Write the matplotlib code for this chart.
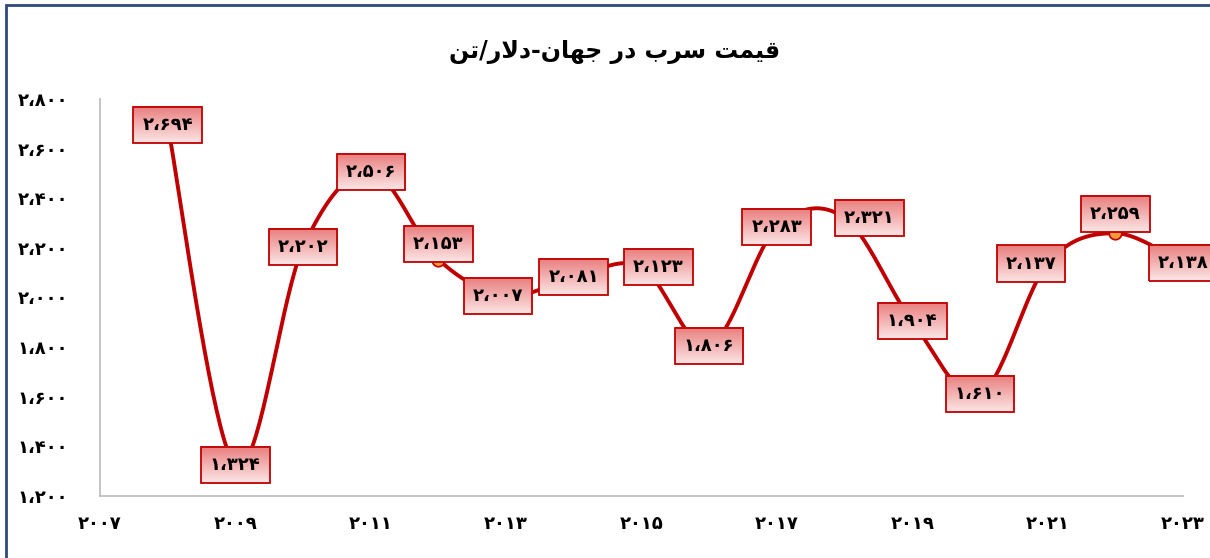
import numpy as np
import matplotlib.pyplot as plt
from matplotlib.patches import Rectangle


years = [2008, 2009, 2010, 2011, 2012, 2013, 2014, 2015,
         2016, 2017, 2018, 2019, 2020, 2021, 2022, 2023]
prices = [2694, 1324, 2202, 2506, 2153, 2007, 2081, 2123,
          1806, 2283, 2321, 1904, 1610, 2137, 2259, 2138]
xtick_years = [2007, 2009, 2011, 2013, 2015, 2017, 2019, 2021, 2023]
ytick_values = [1200, 1400, 1600, 1800, 2000, 2200, 2400, 2600, 2800]
title_text = "قیمت سرب در جهان-دلار/تن"

# label box nudges (points), where the boxes were moved off the point
label_offsets = {2012: (0, 11), 2013: (-6, 0), 2015: (12, 0),
                 2018: (18, 0), 2021: (-12, 0), 2022: (0, 14)}

FA_DIGITS = str.maketrans("0123456789,", "۰۱۲۳۴۵۶۷۸۹،")


def to_fa(n):
    return f"{n:,}".translate(FA_DIGITS)


# %% minimal arabic shaping (no reshaper available)
FORMS = {
    'ق': (0xFED5, 0xFED6, 0xFED7, 0xFED8),
    'ی': (0xFBFC, 0xFBFD, 0xFEF3, 0xFEF4),
    'م': (0xFEE1, 0xFEE2, 0xFEE3, 0xFEE4),
    'ت': (0xFE95, 0xFE96, 0xFE97, 0xFE98),
    'س': (0xFEB1, 0xFEB2, 0xFEB3, 0xFEB4),
    'ر': (0xFEAD, 0xFEAE, None, None),
    'ب': (0xFE8F, 0xFE90, 0xFE91, 0xFE92),
    'د': (0xFEA9, 0xFEAA, None, None),
    'ج': (0xFE9D, 0xFE9E, 0xFE9F, 0xFEA0),
    'ه': (0xFEE9, 0xFEEA, 0xFEEB, 0xFEEC),
    'ا': (0xFE8D, 0xFE8E, None, None),
    'ن': (0xFEE5, 0xFEE6, 0xFEE7, 0xFEE8),
    'ل': (0xFEDD, 0xFEDE, 0xFEDF, 0xFEE0),
}


def shape(text):
    out = []
    i = 0
    while i < len(text):
        ch = text[i]
        if ch not in FORMS:
            out.append(ch)
            i += 1
            continue
        prev = text[i - 1] if i > 0 else ''
        joins_prev = prev in FORMS and FORMS[prev][2] is not None
        if ch == 'ل' and i + 1 < len(text) and text[i + 1] == 'ا':
            out.append(chr(0xFEFC if joins_prev else 0xFEFB))
            i += 2
            continue
        nxt = text[i + 1] if i + 1 < len(text) else ''
        joins_next = nxt in FORMS and FORMS[ch][2] is not None
        iso, fin, ini, med = FORMS[ch]
        if joins_prev and joins_next:
            code = med
        elif joins_prev:
            code = fin
        elif joins_next:
            code = ini
        else:
            code = iso
        out.append(chr(code))
        i += 1
    return ''.join(reversed(out))


# %% smoothed line like excel (bezier through the points)
def smooth(x, y, steps=40):
    p = np.column_stack([x, y]).astype(float)
    p = np.vstack([p[0], p, p[-1]])
    xs, ys = [], []
    t = np.linspace(0, 1, steps)[:, None]
    for i in range(1, len(p) - 2):
        p0, p1 = p[i], p[i + 1]
        c1 = p0 + (p[i + 1] - p[i - 1]) / 6
        c2 = p1 - (p[i + 2] - p[i]) / 6
        b = ((1 - t) ** 3) * p0 + 3 * ((1 - t) ** 2) * t * c1 + 3 * (1 - t) * t ** 2 * c2 + t ** 3 * p1
        xs.append(b[:, 0])
        ys.append(b[:, 1])
    return np.concatenate(xs), np.concatenate(ys)


plt.rcParams['font.family'] = ['DejaVu Sans']

fig = plt.figure(figsize=(12.1, 5.58), dpi=100)
ax = fig.add_axes([100 / 1210, 1 - 496 / 558, 1083 / 1210, 397 / 558])

sx, sy = smooth(years, prices)
ax.plot(sx, sy, color='#c00000', lw=2.8, zorder=3, solid_capstyle='round')
ax.plot(years, prices, 'o', ms=9, mfc='#f29a3a', mec='#c00000', mew=1.2, zorder=4)

labels = []
for yr, v in zip(years, prices):
    dx, dy = label_offsets.get(yr, (0, 0))
    t = ax.annotate(to_fa(v), (yr, v), xytext=(dx, dy), textcoords='offset points',
                    ha='center', va='center', fontsize=13, fontweight='bold', color='black',
                    zorder=7, annotation_clip=False,
                    bbox=dict(boxstyle='square,pad=0.5', fc='none', ec='#c00000', lw=1.3))
    labels.append(t)

ax.set_xlim(2007, 2023)
ax.set_ylim(1200, 2800)
ax.set_xticks(xtick_years)
ax.set_xticklabels([to_fa(y).replace('،', '') for y in xtick_years])
ax.set_yticks(ytick_values)
ax.set_yticklabels([to_fa(v) for v in ytick_values])
ax.tick_params(length=0, labelsize=13)
ax.tick_params(axis='y', pad=23)
ax.tick_params(axis='x', pad=14)
for lab in ax.get_xticklabels() + ax.get_yticklabels():
    lab.set_fontweight('bold')
for s in ['top', 'right']:
    ax.spines[s].set_visible(False)
for s in ['left', 'bottom']:
    ax.spines[s].set_color('#bfbfbf')
    ax.spines[s].set_linewidth(1.3)

fig.text(615 / 1210, 1 - 52 / 558, shape(title_text), ha='center', va='center',
         fontsize=17, fontweight='bold')

fig.patches.append(Rectangle((6 / 1210, -0.1), 1.2, 1.1 - 5 / 558, transform=fig.transFigure,
                             fill=False, ec='#2e4a7a', lw=2, clip_on=False))

# gradient fill behind each label box
fig.canvas.draw()
grad = np.linspace(0, 1, 64)[:, None]
top = np.array([233, 125, 125]) / 255
bot = np.array([252, 230, 230]) / 255
img = (top[None, None, :] * (1 - grad[:, :, None]) + bot[None, None, :] * grad[:, :, None])
inv = ax.transData.inverted()
for t in labels:
    bb = t.get_bbox_patch().get_window_extent()
    (x0, y0), (x1, y1) = inv.transform([[bb.x0, bb.y0], [bb.x1, bb.y1]])
    ax.imshow(img, extent=[x0, x1, y0, y1], aspect='auto', zorder=6,
              interpolation='bilinear', clip_on=False)
ax.set_xlim(2007, 2023)
ax.set_ylim(1200, 2800)

fig.savefig('out.png', dpi=100)
